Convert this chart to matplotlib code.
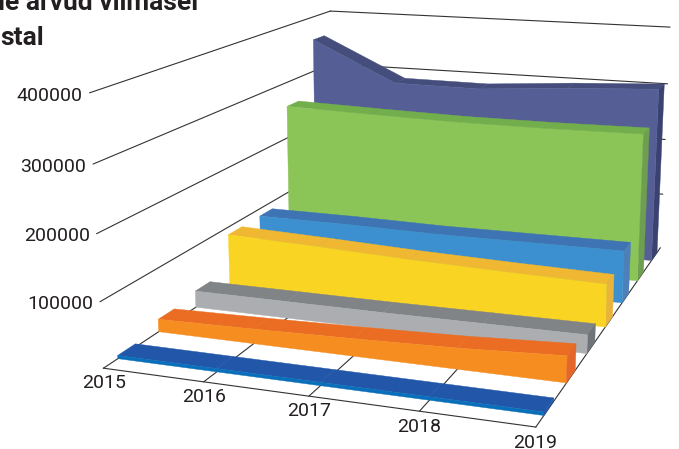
import numpy as np
import matplotlib
matplotlib.use("Agg")
import matplotlib.pyplot as plt
from mpl_toolkits.mplot3d import proj3d
from mpl_toolkits.mplot3d.art3d import Poly3DCollection

years = ["2015", "2016", "2017", "2018", "2019"]
value_ticks = [100000, 200000, 300000, 400000]

# series from front to back
blue = [5000, 5000, 5000, 5000, 5000]
orange = [20000, 23000, 27000, 32000, 40000]
gray = [27000, 27000, 27000, 28000, 29000]
yellow = [87000, 82000, 76000, 72000, 69000]
light_blue = [87000, 87000, 85000, 86000, 87000]
green = [257000, 253000, 250000, 250000, 252000]
navy = [358000, 287000, 286000, 297000, 305000]

series = [blue, orange, gray, yellow, light_blue, green, navy]
# front, top, side colours
colors = [
    ("#0A6FBA", "#2256A8", "#2256A8"),
    ("#F68D20", "#EA6D23", "#E5662A"),
    ("#ABADB0", "#808487", "#6E7478"),
    ("#F9D423", "#F0B732", "#E9B43B"),
    ("#3D90CF", "#3E74B4", "#4D7FB8"),
    ("#8BC457", "#72AF4C", "#6E9E50"),
    ("#555E95", "#454D7C", "#3A4272"),
]

fig = plt.figure(figsize=(6.79, 4.49), dpi=100)
# 3d axes are forced square, so make it as wide as the figure and let it overflow
ax = fig.add_axes([0, -0.256, 1, 1.512], projection="3d")
ax.set_axis_off()
ax.computed_zorder = False
ax.apply_aspect()

# camera: fit a projection from the box corners to where they sit on the picture
box = np.array([
    [0, 0, 0], [4, 0, 0], [4, 7, 0], [0, 7, 0],
    [0, 0, 4], [0, 7, 4], [4, 7, 4],
], dtype=float)
pix = np.array([
    [103, 368], [536, 427], [660, 248], [333, 217],
    [90, 93], [330, 11], [670, 27],
], dtype=float)

rows = []
for (x, y, z), (u, v) in zip(box, pix):
    p = [x, y, z, 1]
    rows.append(p + [0, 0, 0, 0] + [-u * c for c in p])
    rows.append([0, 0, 0, 0] + p + [-v * c for c in p])
P = np.linalg.svd(np.array(rows))[2][-1].reshape(3, 4)
if P[2] @ [2, 3, 2, 1] < 0:
    P = -P
P[:, 2] /= 1e5

# pixels to the view limits of the axes
inv = ax.transData.inverted()
a = inv.transform((0, 449))
b = inv.transform((679, 0))
sx = (b[0] - a[0]) / 679
sy = (b[1] - a[1]) / 449
A = np.array([[sx, 0, a[0]], [0, sy, a[1]], [0, 0, 1]])
P2 = A @ P
# third row is only depth, has to stay negative or Line3D clips the line
M = np.array([P2[0], P2[1], [0, 1, 0, -8], P2[2]])
ax.get_proj = lambda: M
ax.M = M

line_kw = dict(color="#333333", lw=0.8, zorder=1)
xs = np.arange(len(years))

# floor
ax.plot([0, 4], [0, 0], [0, 0], **line_kw)
for x in xs:
    ax.plot([x, x], [0, 7], [0, 0], **line_kw)

# walls
for v in value_ticks:
    ax.plot([0, 0], [0, 7], [v, v], **line_kw)
    ax.plot([0, 4], [7, 7], [v, v], **line_kw)

# areas
for i, (vals, (front, top, side)) in enumerate(zip(series, colors)):
    y0 = i + 0.33
    y1 = i + 0.75
    polys = []
    cols = []
    for k in range(len(vals) - 1):
        polys.append([(k, y0, vals[k]), (k + 1, y0, vals[k + 1]), (k + 1, y1, vals[k + 1]), (k, y1, vals[k])])
        cols.append(top)
    polys.append([(4, y0, 0), (4, y0, vals[-1]), (4, y1, vals[-1]), (4, y1, 0)])
    cols.append(side)
    polys.append([(0, y0, 0)] + [(k, y0, v) for k, v in enumerate(vals)] + [(4, y0, 0)])
    cols.append(front)
    pc = Poly3DCollection(polys, facecolors=cols, edgecolors=cols, linewidths=0.3, zorder=20 - i)
    ax.add_collection3d(pc, autolim=False)


def label_at(x, y, z, s, ha):
    px, py, _ = proj3d.proj_transform(x, y, z, M)
    ax.text2D(px, py, s, transform=ax.transData, ha=ha, va="center", fontsize=14,
              family=label_font, color="#231F20", zorder=30)


# labels
label_font = ["Liberation Sans Narrow", "Roboto"]
for v in value_ticks:
    label_at(-0.07, 0, v - 5000, str(v), "right")
for x, name in zip(xs, years):
    label_at(x, 0, -22000, name, "center")

# title is cut by the edge of the picture
fig.text(198 / 679, 1 - 10 / 449, "de arvud viimasel", ha="right", va="baseline", fontsize=19,
         fontweight="bold", family=label_font, color="#231F20")
fig.text(0, 1 - 45 / 449, "stal", ha="left", va="baseline", fontsize=19,
         fontweight="bold", family=label_font, color="#231F20")

fig.savefig("out.png", dpi=100)
